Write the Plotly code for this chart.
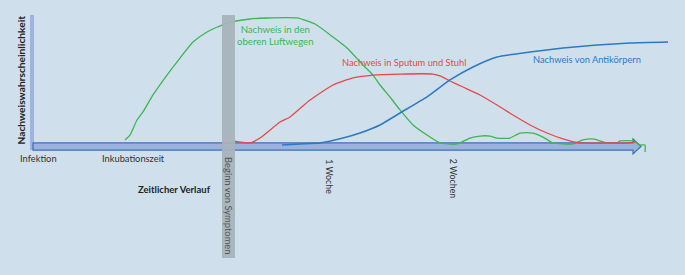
import plotly.graph_objects as go

# Time axis: arbitrary diagram units (not to scale); probability 0..1
green_x = [125, 130, 137, 143, 153, 167, 180, 193, 207, 227, 250, 267, 297, 315, 333, 347, 363, 373, 380, 390,
           400, 413, 427, 440, 457, 470, 480, 490, 497, 510, 520, 533, 543, 553, 573, 583, 593, 607, 617, 620,
           633, 640, 645, 645]
green_y = [0.048, 0.087, 0.206, 0.270, 0.405, 0.563, 0.698, 0.825, 0.905, 0.976, 1.008, 1.016, 1.016, 0.968,
           0.865, 0.778, 0.643, 0.563, 0.484, 0.389, 0.286, 0.167, 0.087, 0.024, 0.016, 0.063, 0.079, 0.079,
           0.063, 0.063, 0.103, 0.103, 0.071, 0.024, 0.016, 0.048, 0.056, 0.024, 0.024, 0.040, 0.040, 0.008,
           0.008, -0.048]

red_x = [233, 250, 260, 280, 290, 310, 333, 353, 373, 400, 433, 440, 450, 463, 480, 497, 513, 530, 547, 563,
         580, 607, 630, 635]
red_y = [0.040, 0.024, 0.063, 0.190, 0.230, 0.365, 0.484, 0.540, 0.563, 0.571, 0.571, 0.556, 0.516, 0.468,
         0.405, 0.325, 0.246, 0.167, 0.103, 0.056, 0.024, 0.024, 0.024, 0.032]

blue_x = [282, 300, 320, 343, 360, 380, 400, 427, 450, 473, 497, 530, 563, 597, 630, 668]
blue_y = [0.008, 0.016, 0.024, 0.063, 0.103, 0.167, 0.262, 0.389, 0.524, 0.627, 0.706, 0.746, 0.778, 0.802,
          0.817, 0.825]

time_labels = ["Infektion", "Inkubationszeit"]
time_label_x = [38, 133]
week_labels = ["1 Woche", "2 Wochen"]
week_label_x = [330, 453]

BG = "#cfe0ec"
GREEN = "#3db552"
RED = "#e8464a"
BLUE = "#2c79c3"
FONT = "Lato"
FS = 9.3

fig = go.Figure()
fig.add_trace(go.Scatter(x=green_x, y=green_y, mode="lines",
                         line=dict(color=GREEN, width=1.3, shape="spline", smoothing=0.5), hoverinfo="skip"))
fig.add_trace(go.Scatter(x=red_x, y=red_y, mode="lines",
                         line=dict(color=RED, width=1.3, shape="spline", smoothing=0.5), hoverinfo="skip"))
fig.add_trace(go.Scatter(x=blue_x, y=blue_y, mode="lines",
                         line=dict(color=BLUE, width=1.5, shape="spline", smoothing=0.5), hoverinfo="skip"))

shapes = []
# vertical axis bar
shapes.append(dict(type="rect", x0=30, x1=34, y0=-0.032, y1=1.04, fillcolor="#9db4de",
                   line=dict(width=0), layer="below"))
# horizontal arrow axis
shapes.append(dict(type="path",
                   path="M 33 0.024 L 633 0.024 L 633 0.056 L 641 -0.004 L 633 -0.063 L 633 -0.032 L 33 -0.032 Z",
                   fillcolor="#9bb2dd", line=dict(color="#3c70b8", width=1.2), layer="below"))
# symptom onset bar
shapes.append(dict(type="rect", x0=222, x1=235, y0=-0.889, y1=1.04, fillcolor="#a8b3bc",
                   opacity=0.95, line=dict(width=0), layer="above"))

annotations = []
for lab, x in zip(time_labels, time_label_x):
    annotations.append(dict(x=x, y=-0.098, text=lab, showarrow=False,
                            font=dict(family=FONT, size=FS, color="#333333")))
for lab, x in zip(week_labels, week_label_x):
    annotations.append(dict(x=x, y=-0.085, text=lab, showarrow=False, textangle=90, yanchor="top",
                            font=dict(family=FONT, size=8.8, color="#333333")))
annotations.append(dict(x=229, y=-0.068, text="Beginn von Symptomen", showarrow=False, textangle=90,
                        yanchor="top", font=dict(family=FONT, size=9.4, color="#555555")))
annotations.append(dict(x=174, y=-0.344, text="<b>Zeitlicher Verlauf</b>", showarrow=False,
                        font=dict(family=FONT, size=9.5, color="#222222")))
annotations.append(dict(x=21, y=0.52, text="<b>Nachweiswahrscheinlichkeit</b>", showarrow=False,
                        textangle=-90, font=dict(family=FONT, size=10.2, color="#222222")))
annotations.append(dict(x=275, y=0.875, text="Nachweis in den<br>oberen Luftwegen", showarrow=False,
                        font=dict(family=FONT, size=9.6, color=GREEN)))
annotations.append(dict(x=404, y=0.661, text="Nachweis in Sputum und Stuhl", showarrow=False,
                        font=dict(family=FONT, size=FS, color=RED)))
annotations.append(dict(x=587, y=0.69, text="Nachweis von Antikörpern", showarrow=False,
                        font=dict(family=FONT, size=FS, color=BLUE)))

fig.update_layout(
    width=685, height=275, margin=dict(l=0, r=0, t=0, b=0),
    paper_bgcolor=BG, plot_bgcolor=BG, showlegend=False,
    xaxis=dict(range=[0, 685], visible=False, fixedrange=True),
    yaxis=dict(range=[-1.0238, 1.1587], visible=False, fixedrange=True),
    shapes=shapes, annotations=annotations,
)

fig.write_html("out.html", config={"displayModeBar": False},
               post_script="document.body.style.margin='0';document.body.style.background='" + BG + "';")
